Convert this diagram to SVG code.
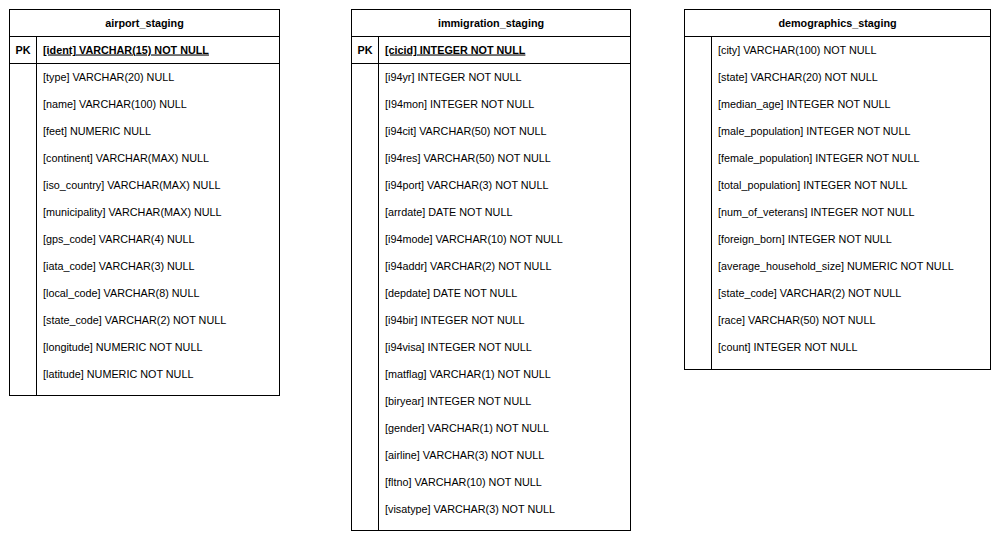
<svg xmlns="http://www.w3.org/2000/svg" width="1000" height="541" viewBox="0 0 1000 541">
<style>
.box{fill:#fff;stroke:#000;stroke-width:1}
.ln{stroke:#000;stroke-width:1;fill:none}
text{font-family:"Liberation Sans",Arial,sans-serif;font-size:10.8px;fill:#000}
.h{font-weight:bold;text-anchor:middle}
.pk{font-weight:bold}
.pkc{font-weight:bold;text-anchor:middle}
.u{text-decoration:underline}
</style>
<rect width="1000" height="541" fill="#fff"/>
<g id="airport_staging">
<rect class="box" x="9.5" y="9.5" width="270" height="386"/>
<line class="ln" x1="9.5" y1="36.5" x2="279.5" y2="36.5"/>
<line class="ln" x1="9.5" y1="63.5" x2="279.5" y2="63.5"/>
<line class="ln" x1="36.5" y1="36.5" x2="36.5" y2="395.5"/>
<text class="h" x="144.5" y="26.5">airport_staging</text>
<text class="pkc" x="23" y="53.5">PK</text>
<text class="pk u" x="43" y="53.5">[ident] VARCHAR(15) NOT NULL</text>
<text x="43" y="80.5">[type] VARCHAR(20) NULL</text>
<text x="43" y="107.5">[name] VARCHAR(100) NULL</text>
<text x="43" y="134.5">[feet] NUMERIC NULL</text>
<text x="43" y="161.5">[continent] VARCHAR(MAX) NULL</text>
<text x="43" y="188.5">[iso_country] VARCHAR(MAX) NULL</text>
<text x="43" y="215.5">[municipality] VARCHAR(MAX) NULL</text>
<text x="43" y="242.5">[gps_code] VARCHAR(4) NULL</text>
<text x="43" y="269.5">[iata_code] VARCHAR(3) NULL</text>
<text x="43" y="296.5">[local_code] VARCHAR(8) NULL</text>
<text x="43" y="323.5">[state_code] VARCHAR(2) NOT NULL</text>
<text x="43" y="350.5">[longitude] NUMERIC NOT NULL</text>
<text x="43" y="377.5">[latitude] NUMERIC NOT NULL</text>
</g>
<g id="immigration_staging">
<rect class="box" x="351.5" y="9.5" width="279" height="521"/>
<line class="ln" x1="351.5" y1="36.5" x2="630.5" y2="36.5"/>
<line class="ln" x1="351.5" y1="63.5" x2="630.5" y2="63.5"/>
<line class="ln" x1="378.5" y1="36.5" x2="378.5" y2="530.5"/>
<text class="h" x="491" y="26.5">immigration_staging</text>
<text class="pkc" x="365" y="53.5">PK</text>
<text class="pk u" x="385" y="53.5">[cicid] INTEGER NOT NULL</text>
<text x="385" y="80.5">[i94yr] INTEGER NOT NULL</text>
<text x="385" y="107.5">[I94mon] INTEGER NOT NULL</text>
<text x="385" y="134.5">[i94cit] VARCHAR(50) NOT NULL</text>
<text x="385" y="161.5">[i94res] VARCHAR(50) NOT NULL</text>
<text x="385" y="188.5">[i94port] VARCHAR(3) NOT NULL</text>
<text x="385" y="215.5">[arrdate] DATE NOT NULL</text>
<text x="385" y="242.5">[i94mode] VARCHAR(10) NOT NULL</text>
<text x="385" y="269.5">[i94addr] VARCHAR(2) NOT NULL</text>
<text x="385" y="296.5">[depdate] DATE NOT NULL</text>
<text x="385" y="323.5">[i94bir] INTEGER NOT NULL</text>
<text x="385" y="350.5">[i94visa] INTEGER NOT NULL</text>
<text x="385" y="377.5">[matflag] VARCHAR(1) NOT NULL</text>
<text x="385" y="404.5">[biryear] INTEGER NOT NULL</text>
<text x="385" y="431.5">[gender] VARCHAR(1) NOT NULL</text>
<text x="385" y="458.5">[airline] VARCHAR(3) NOT NULL</text>
<text x="385" y="485.5">[fltno] VARCHAR(10) NOT NULL</text>
<text x="385" y="512.5">[visatype] VARCHAR(3) NOT NULL</text>
</g>
<g id="demographics_staging">
<rect class="box" x="684.5" y="9.5" width="306" height="360"/>
<line class="ln" x1="684.5" y1="36.5" x2="990.5" y2="36.5"/>
<line class="ln" x1="711.5" y1="36.5" x2="711.5" y2="369.5"/>
<text class="h" x="837.5" y="26.5">demographics_staging</text>
<text x="718" y="53.5">[city] VARCHAR(100) NOT NULL</text>
<text x="718" y="80.5">[state] VARCHAR(20) NOT NULL</text>
<text x="718" y="107.5">[median_age] INTEGER NOT NULL</text>
<text x="718" y="134.5">[male_population] INTEGER NOT NULL</text>
<text x="718" y="161.5">[female_population] INTEGER NOT NULL</text>
<text x="718" y="188.5">[total_population] INTEGER NOT NULL</text>
<text x="718" y="215.5">[num_of_veterans] INTEGER NOT NULL</text>
<text x="718" y="242.5">[foreign_born] INTEGER NOT NULL</text>
<text x="718" y="269.5">[average_household_size] NUMERIC NOT NULL</text>
<text x="718" y="296.5">[state_code] VARCHAR(2) NOT NULL</text>
<text x="718" y="323.5">[race] VARCHAR(50) NOT NULL</text>
<text x="718" y="350.5">[count] INTEGER NOT NULL</text>
</g>
<g id="connectors"></g>
</svg>
